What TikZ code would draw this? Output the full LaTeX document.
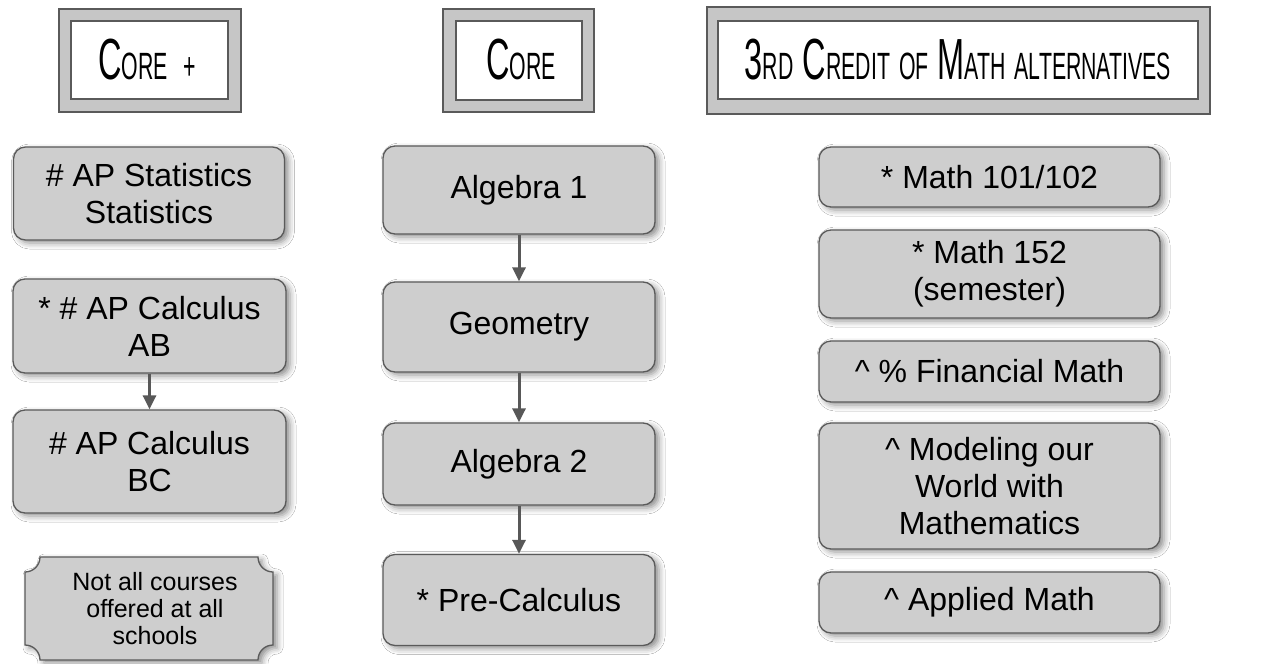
\documentclass[tikz,border=0pt]{standalone}
\usepackage{fontspec}
\setmainfont{Liberation Sans}
\newfontfamily\hfont[FakeStretch=0.56]{Liberation Sans}
\usetikzlibrary{arrows.meta,shadows.blur}
\definecolor{fillc}{RGB}{206,206,206}
\definecolor{bordc}{RGB}{90,90,90}
\definecolor{hfill}{RGB}{198,198,198}
\definecolor{arrc}{RGB}{88,88,88}
\newcommand\BigC[1]{{\fontsize{58}{58}\selectfont #1}}
\newcommand\SmC[1]{{\fontsize{38}{38}\selectfont #1}}
\newcommand\hgap{\hspace{9pt}}
\tikzset{
  box/.style={draw=bordc, line width=1.3pt, fill=fillc, rounded corners=12pt,
    align=center, inner sep=0pt, font=\fontsize{32}{37}\selectfont,
    blur shadow={shadow xshift=4pt, shadow yshift=-3pt, shadow blur radius=6pt, shadow opacity=45}},
  houter/.style={draw=bordc, line width=1.2pt, fill=hfill},
  hinner/.style={draw=bordc, line width=1.2pt, fill=white},
  htext/.style={font=\hfont, inner sep=0pt},
  arr/.style={draw=arrc, line width=3pt, -{Triangle[width=13pt,length=14pt]}},
  plaque/.style={draw=bordc, line width=1.3pt, fill=fillc,
    blur shadow={shadow xshift=4pt, shadow yshift=-3pt, shadow blur radius=6pt, shadow opacity=45}},
}
\begin{document}
\begin{tikzpicture}[x=1pt,y=-1pt]
\useasboundingbox[fill=white] (0,0) rectangle (1286,664);
% headers
\draw[houter] (59,9) rectangle (241,112);
\draw[hinner] (71,21) rectangle (228,99);
\node[htext] (h1) at (147,60) {\BigC{C}\SmC{ORE}\hspace{15pt}\SmC{+}};
\draw[houter] (443,9) rectangle (594,112);
\draw[hinner] (456,21) rectangle (582,100);
\node[htext] (h2) at (521,60) {\BigC{C}\SmC{ORE}};
\draw[houter] (707,7) rectangle (1210,114);
\draw[hinner] (718,21) rectangle (1198,99);
\node[htext] (h3) at (958,60) {\BigC{3}\SmC{RD}\hgap\BigC{C}\SmC{REDIT}\hgap\SmC{OF}\hgap\BigC{M}\SmC{ATH}\hgap\SmC{ALTERNATIVES}};
% left column
\node[box, minimum width=271pt, minimum height=93pt] (stat) at (149,193.5) {\# AP Statistics\\Statistics};
\node[box, minimum width=273pt, minimum height=94pt] (ab) at (149.5,326) {* \# AP Calculus\\AB};
\node[box, minimum width=273pt, minimum height=103pt] (bc) at (149.5,461.5) {\# AP Calculus\\BC};
\draw[arr] (ab.south) -- (bc.north);
\path[plaque] (40,557) -- (258,557) .. controls (258,565.3) and (264.7,572) .. (273,572)
  -- (273,645) .. controls (264.7,645) and (258,651.7) .. (258,660)
  -- (40,660) .. controls (40,651.7) and (33.3,645) .. (25,645)
  -- (25,572) .. controls (33.3,572) and (40,565.3) .. (40,557) -- cycle;
\node[align=center, font=\fontsize{25}{27}\selectfont, inner sep=0pt] (note) at (155,608.5) {Not all courses\\offered at all\\schools};
% middle column
\node[box, minimum width=272pt, minimum height=88pt] (alg1) at (519,190) {Algebra 1};
\node[box, minimum width=272pt, minimum height=90pt] (geo) at (519,327) {Geometry};
\node[box, minimum width=272pt, minimum height=82pt] (alg2) at (519,464) {Algebra 2};
\node[box, minimum width=272pt, minimum height=91pt] (pre) at (519,600) {* Pre-Calculus};
\draw[arr] (alg1.south) -- (geo.north);
\draw[arr] (geo.south) -- (alg2.north);
\draw[arr] (alg2.south) -- (pre.north);
% right column
\node[box, minimum width=341pt, minimum height=60pt] (m101) at (989.5,177) {* Math 101/102};
\node[box, minimum width=341pt, minimum height=88pt] (m152) at (989.5,274) {* Math 152\\(semester)};
\node[box, minimum width=341pt, minimum height=61pt] (fin) at (989.5,371.5) {\textasciicircum{} \% Financial Math};
\node[box, minimum width=341pt, minimum height=126pt] (mod) at (989.5,486) {\textasciicircum{} Modeling our\\World with\\Mathematics};
\node[box, minimum width=341pt, minimum height=61pt] (app) at (989.5,602.5) {\textasciicircum{} Applied Math};
\end{tikzpicture}
\end{document}
